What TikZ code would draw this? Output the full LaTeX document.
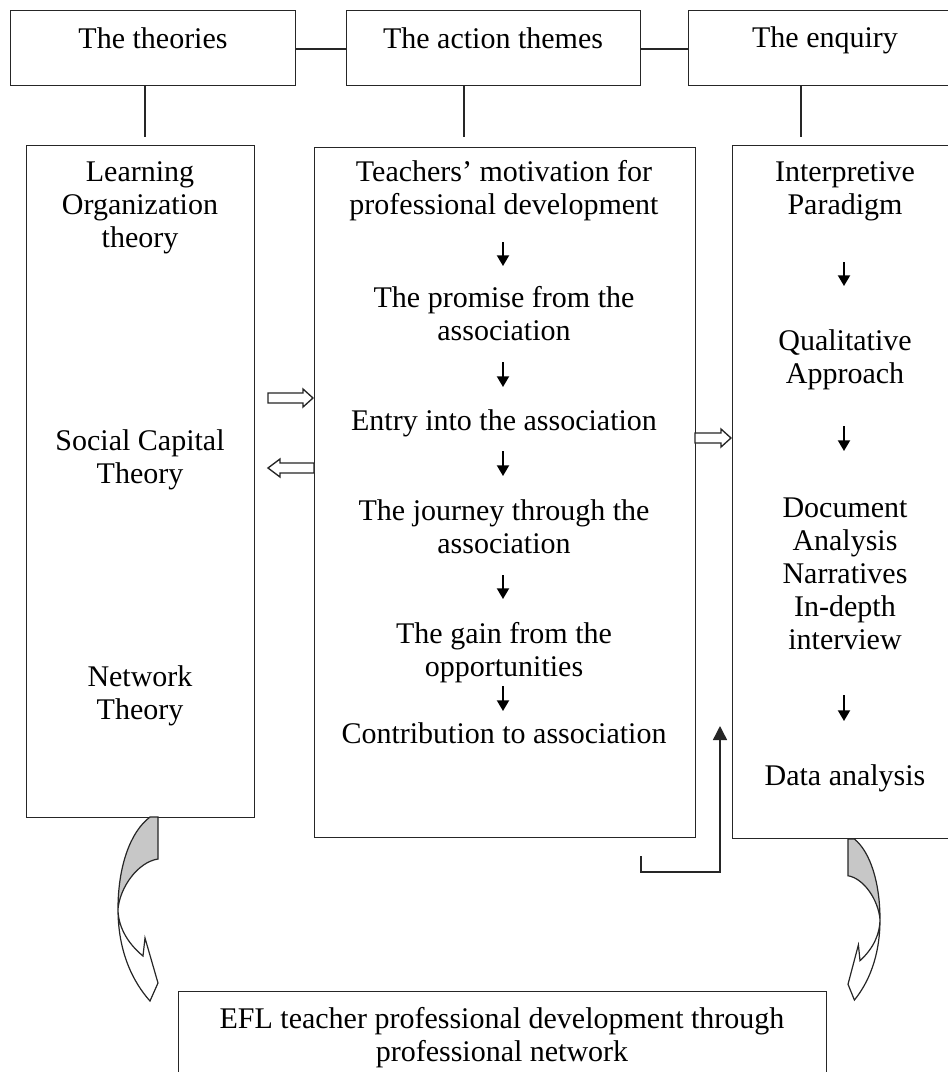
\documentclass[tikz,border=0pt]{standalone}
\usepackage{fontspec}
\setmainfont{Liberation Serif}
\usetikzlibrary{arrows.meta}
\tikzset{
  box/.style={draw=black!85, line width=1pt, anchor=north west, inner sep=0pt},
  txt/.style={align=center, inner sep=0pt, font=\fontsize{22.5}{24.75}\selectfont},
  link/.style={draw=black!85, line width=1pt},
  flow/.style={draw=black, line width=1.4pt, -{Triangle[length=8pt,width=9pt]}},
  hollow/.style={draw=black!85, line width=1pt, fill=white, line join=miter},
  curvarrow/.pic={
    \filldraw[draw=black!85, line width=0.9pt, fill=white]
      (-40,92) .. controls (-40,135) and (-25,165) .. (-8,184)
      -- (0,166) -- (-13,121) -- (-15,139)
      .. controls (-32,125) and (-40,108) .. (-40,92) -- cycle;
    \filldraw[draw=black!85, line width=0.9pt, fill=black!22]
      (-8,0) .. controls (-28,15) and (-40,50) .. (-40,92)
      .. controls (-38,70) and (-20,45) .. (0,42) -- (0,0) -- cycle;
  }
}
\begin{document}
\begin{tikzpicture}[x=0.75pt,y=-0.75pt]
\useasboundingbox (0,0) rectangle (947,1072);
\fill[white] (0,0) rectangle (947,1072);

% top boxes
\node[box, minimum width=213.75pt, minimum height=56.25pt] (theories) at (10,10) {};
\node[box, minimum width=220.5pt, minimum height=56.25pt] (themes) at (346,10) {};
\node[box, minimum width=205.5pt, minimum height=56.25pt] (enquiry) at (688,10) {};
\node[txt] (ttheories) at (153,38) {The theories};
\node[txt] (tthemes) at (493,38) {The action themes};
\node[txt] (tenquiry) at (825,40) {The enquiry};

% main boxes
\node[box, minimum width=171pt, minimum height=504pt] (left) at (26,145) {};
\node[box, minimum width=285.75pt, minimum height=517.5pt] (mid) at (314,147) {};
\node[box, minimum width=169.5pt, minimum height=519.75pt] (right) at (732,145) {};
\node[box, minimum width=486pt, minimum height=74.25pt] (bottom) at (178,991) {};

% connectors between top boxes
\draw[link] (theories.east |- 0,49) -- (themes.west |- 0,49);
\draw[link] (themes.east |- 0,49) -- (enquiry.west |- 0,49);
\coordinate (v1) at (145,137);
\coordinate (v2) at (464,137);
\coordinate (v3) at (801,137);
\draw[link] (theories.south -| v1) -- (v1);
\draw[link] (themes.south -| v2) -- (v2);
\draw[link] (enquiry.south -| v3) -- (v3);

% left texts
\node[txt] (lo) at (140,208) {Learning\\Organization\\theory};
\node[txt] (sc) at (140,460) {Social Capital\\Theory};
\node[txt] (nt) at (140,696) {Network\\Theory};

% middle texts
\node[txt] (m1) at (504,191) {Teachers’ motivation for\\professional development};
\node[txt] (m2) at (504,314) {The promise from the\\association};
\node[txt] (m3) at (504,423) {Entry into the association};
\node[txt] (m4) at (504,527) {The journey through the\\association};
\node[txt] (m5) at (504,653) {The gain from the\\opportunities};
\node[txt] (m6) at (504,733) {Contribution to association};

\draw[flow] (503,242) -- (503,266);
\draw[flow] (503,362) -- (503,387);
\draw[flow] (503,451) -- (503,476);
\draw[flow] (503,575) -- (503,599);
\draw[flow] (503,686) -- (503,711);

% right texts
\node[txt] (r1) at (845,191) {Interpretive\\Paradigm};
\node[txt] (r2) at (845,360) {Qualitative\\Approach};
\node[txt] (r3) at (845,574) {Document\\Analysis\\Narratives\\In-depth\\interview};
\node[txt] (r4) at (845,778) {Data analysis};

\draw[flow] (844,262) -- (844,286);
\draw[flow] (844,426) -- (844,451);
\draw[flow] (844,695) -- (844,721);

% bottom text
\node[txt] (b1) at (502,1038) {EFL teacher professional development through\\professional network};

% hollow arrows
\draw[hollow] (268,393) -- (303,393) -- (303,389) -- (313,398) -- (303,407) -- (303,403) -- (268,403) -- cycle;
\draw[hollow] (314,463) -- (280,463) -- (280,459) -- (268,468) -- (280,477) -- (280,473) -- (314,473) -- cycle;
\draw[hollow] (695,433) -- (721,433) -- (721,429) -- (731,438) -- (721,447) -- (721,443) -- (695,443) -- cycle;

% return connector
\coordinate (c1) at (641,856);
\coordinate (c2) at (720,872);
\coordinate (c3) at (720,726);
\draw[draw=black!85, line width=1.1pt, -{Triangle[length=10.5pt,width=10.5pt]}] (c1) |- (c2) -- (c3);

% curved arrows
\path (158,817) pic {curvarrow};
\path (848,839) pic[xscale=-0.8, yscale=0.875] {curvarrow};
\end{tikzpicture}
\end{document}
